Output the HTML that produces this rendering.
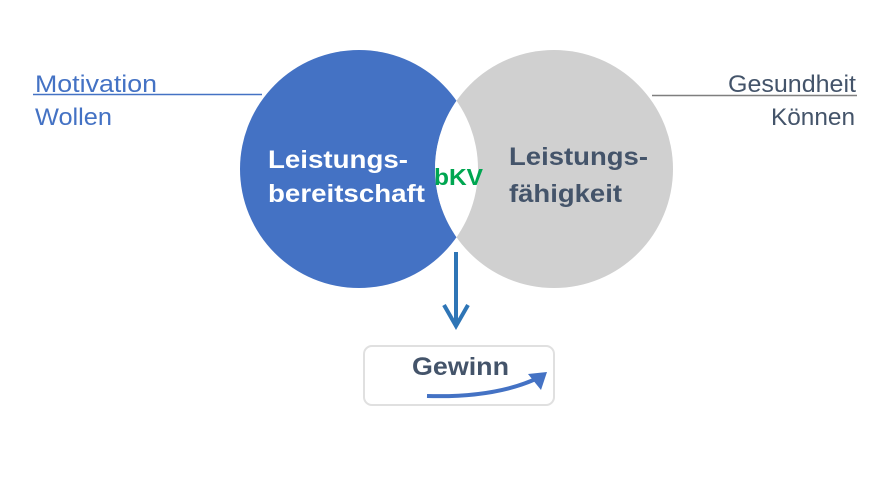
<!DOCTYPE html>
<html><head><meta charset="utf-8"><style>
html,body{margin:0;padding:0;background:#fff;}
svg{display:block;font-family:"Liberation Sans",sans-serif;}
</style></head><body>
<svg width="890" height="490" viewBox="0 0 890 490">
<defs>
<clipPath id="cb"><circle cx="359" cy="169" r="119"/></clipPath>
</defs>
<line x1="33" y1="94.5" x2="262" y2="94.5" stroke="#4472c4" stroke-width="1.5"/>
<line x1="652" y1="95.5" x2="857" y2="95.5" stroke="#7f7f7f" stroke-width="1.5"/>
<text x="35" y="92" font-size="24" fill="#4472c4" textLength="122" lengthAdjust="spacingAndGlyphs">Motivation</text>
<text x="35" y="125" font-size="24" fill="#4472c4" textLength="77" lengthAdjust="spacingAndGlyphs">Wollen</text>
<text x="728" y="92" font-size="24" fill="#44546a" textLength="128" lengthAdjust="spacingAndGlyphs">Gesundheit</text>
<text x="771" y="125" font-size="24" fill="#44546a" textLength="84" lengthAdjust="spacingAndGlyphs">Können</text>
<circle cx="359" cy="169" r="119" fill="#4472c4"/>
<circle cx="554" cy="169" r="119" fill="#d0d0d0"/>
<circle cx="554" cy="169" r="119" fill="#fff" clip-path="url(#cb)"/>
<text x="268" y="168" font-size="25" font-weight="bold" fill="#fff" textLength="140" lengthAdjust="spacingAndGlyphs">Leistungs-</text>
<text x="268" y="202" font-size="25" font-weight="bold" fill="#fff" textLength="157" lengthAdjust="spacingAndGlyphs">bereitschaft</text>
<text x="434" y="185" font-size="23" font-weight="bold" fill="#00a651" textLength="49" lengthAdjust="spacingAndGlyphs">bKV</text>
<text x="509" y="165" font-size="25" font-weight="bold" fill="#44546a" textLength="139" lengthAdjust="spacingAndGlyphs">Leistungs-</text>
<text x="509" y="202" font-size="25" font-weight="bold" fill="#44546a" textLength="113" lengthAdjust="spacingAndGlyphs">fähigkeit</text>
<line x1="456" y1="252" x2="456" y2="322" stroke="#2e75b6" stroke-width="4"/>
<polyline points="444,305 456,326 468,305" fill="none" stroke="#2e75b6" stroke-width="4"/>
<rect x="364" y="346" width="190" height="59" rx="8" fill="#fff" stroke="#e0e0e0" stroke-width="2"/>
<text x="412" y="375" font-size="25" font-weight="bold" fill="#44546a" textLength="97" lengthAdjust="spacingAndGlyphs">Gewinn</text>
<path d="M427,396 Q495,398 538,378" fill="none" stroke="#4472c4" stroke-width="4"/>
<polygon points="547,372 528,374 541,390" fill="#4472c4"/>
</svg>
</body></html>
